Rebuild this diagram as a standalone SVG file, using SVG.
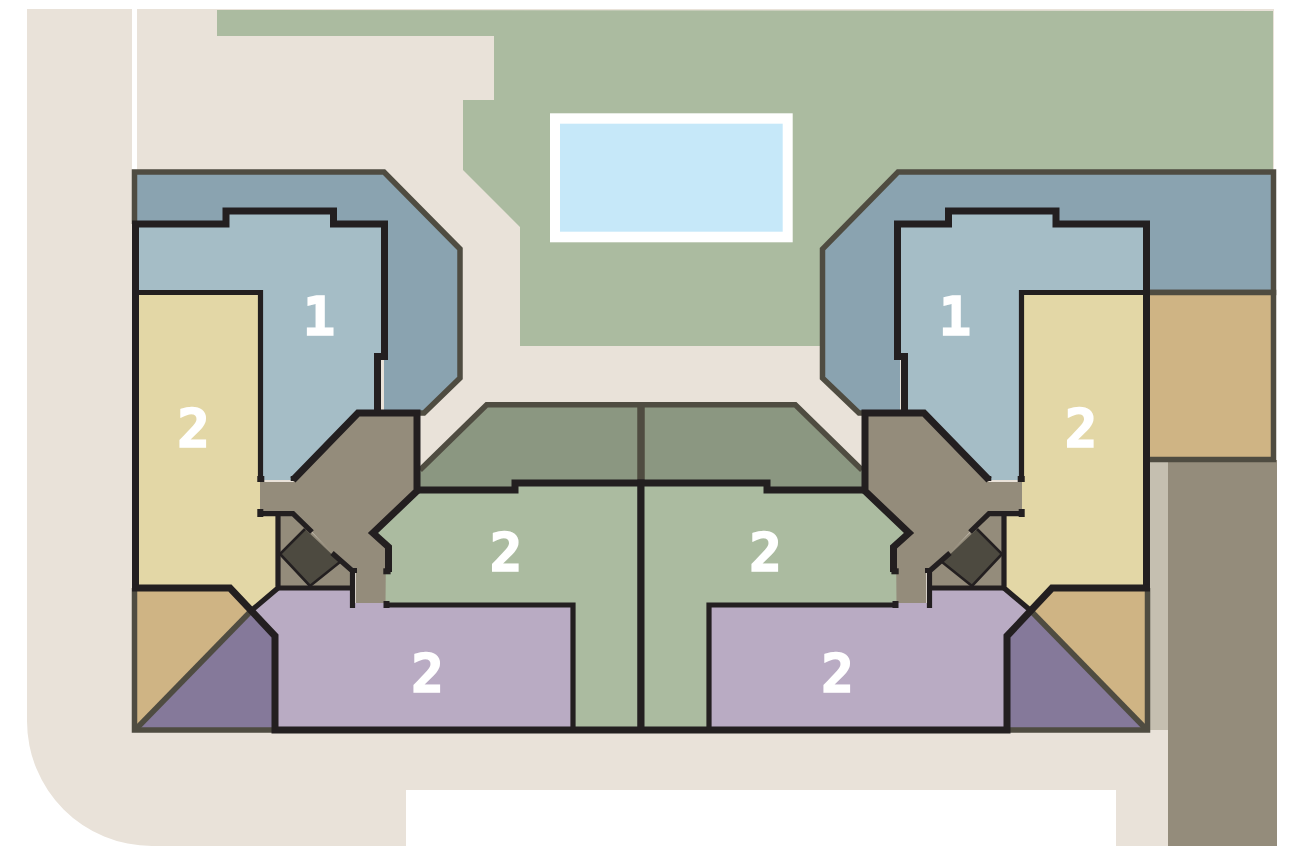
<svg xmlns="http://www.w3.org/2000/svg" width="1291" height="846" viewBox="0 0 1291 846">
<style>
.edge{fill:none;stroke:#4f4c41;stroke-width:5.5;stroke-linejoin:miter}
.wall{fill:none;stroke:#231f20;stroke-width:7;stroke-linejoin:miter}
.thin{fill:none;stroke:#231f20;stroke-width:5.2;stroke-linejoin:miter}
.hair{fill:none;stroke:#231f20;stroke-width:2.6}
.tab{fill:#231f20}
.num{font-family:"DejaVu Sans Mono",monospace;font-weight:700;font-size:54px;fill:#fff;stroke:#fff;stroke-width:1.6;stroke-linejoin:miter;text-anchor:middle}
</style>
<defs>
<g id="wing">
<polygon fill="#a5bdc6" points="135.5,224 226,224 226,211 333.5,211 333.5,224 384.5,224 384.5,356 377.5,356 377.5,413 358,413 293,480 260,480 260,292 135.5,292"/>
<polygon fill="#e3d7a6" points="135.5,292 260.5,292 260.5,514 278,514 278,588 252,610 230,588 135.5,588"/>
<polygon fill="#cfb484" points="135,588 230,588 252,610 135,730"/>
<polygon fill="#85799a" points="135,730 252,610 275,636 275,730"/>
<polygon fill="#b9abc3" points="278,588 352.500,588 352.500,603 385,603 385,605 573,605 573,730 275,730 275,636 252,610"/>
<polygon fill="#abbba0" points="417,490 515,490 515,483 641,483 641,730 573,730 573,605 385,605 385,547 373,533"/>
<polygon fill="#948c7b" points="278,514 293,514 352,572 352,588 278,588"/>
<polygon fill="#948c7b" points="260,482 293,482 358,413 417,413 417,491 373,533 386,547 385.500,603 356,603 356,572 332,553 312,532 293,511 260,511"/>
<polygon fill="#4d4a40" points="305,529 340,562 310,586 280,554"/>
<path class="hair" d="M305 529 280 554 310 586 340 562"/>
<path class="edge" d="M250 612 135 730"/>
<path class="edge" d="M134.500 588V730H275"/>
<path class="wall" d="M135.500 588V224H226V211H333.500V224H384.500V356.500H377.500V413"/>
<path class="wall" d="M293 480 358 413H417V491L373 533 388.500 547V572"/>
<path class="wall" d="M132 588H230L275 636V730H641"/>
<path class="wall" d="M417 490H515V483H641V730"/>
<path class="thin" d="M135.500 292.500H260.500V482"/>
<path class="thin" d="M260 513.700H293L312 532"/>
<path class="thin" d="M332 553 352.500 571V608"/>
<path class="thin" d="M278 514V588L252 610"/>
<path class="thin" d="M278 588H352"/>
<path class="thin" d="M384 605H573V730"/>
<rect class="tab" x="257.300" y="476" width="7" height="6"/>
<rect class="tab" x="290.700" y="476" width="6" height="5"/>
<rect class="tab" x="257.300" y="509" width="6" height="8"/>
<rect class="tab" x="350" y="568" width="7" height="5"/>
<rect class="tab" x="383.300" y="568.300" width="7.300" height="6"/>
<rect class="tab" x="383.500" y="601" width="6" height="7"/>
</g>
</defs>
<rect width="1291" height="846" fill="#fff"/>
<g id="site">
<path id="paving" fill="#e9e2d9" d="M27 9H132V175H137V9H1274V470H1168V846H1116V790H406V846H152A125 125 0 0 1 27 721Z"/>
<polygon id="lawn" fill="#abbba0" points="217,10 1273,11 1273,180 900,180 830,250 830,346 520,346 520,227 463,170 463,100 494,100 494,36 217,36"/>
<g id="pool"><rect x="550" y="113.300" width="242.700" height="129" fill="#fff"/><rect x="560" y="123.700" width="222.700" height="108" fill="#c6e8f9"/></g>
<rect id="verge" x="1150" y="460" width="18" height="270" fill="#c5bfb0"/>
<rect id="road" x="1168" y="460" width="109" height="386" fill="#948c7b"/>
</g>
<g id="terrace-left"><polygon fill="#8aa3b0" stroke="none" points="134.500,172 384,172 460,249 460,378 424,413 384,413 384,292 134.500,292"/><path class="edge" d="M134.500 224V172H384L460 249V378L424 413H417"/></g>
<g id="terrace-right"><polygon fill="#8aa3b0" points="1273.500,172 898,172 822.500,249 822.500,378 859,413 900,413 900,224 1147,224 1147,292.500 1273.500,292.500"/><path class="edge" d="M1147 292.500H1273.500V172H898L822.500 249V378L859 413H865"/></g>
<g id="patio-right"><rect x="1147" y="292.500" width="126.500" height="167" fill="#cfb484"/><path class="edge" d="M1147 292.500H1273.500V459.500H1147"/></g>
<g id="roof"><polygon fill="#8b9781" points="420,470 486.700,404.700 795.300,404.700 862,470 865,490 417,490"/><path class="edge" d="M420 470 486.700 404.700H795.300L862 470"/><path d="M641 404V483" fill="none" stroke="#4f4c41" stroke-width="7.500"/></g>
<g id="wing-left"><use href="#wing"/></g>
<g id="wing-right"><use href="#wing" transform="matrix(-1 0 0 1 1282 0)"/></g>
<g id="labels">
<g id="label-1-left"><text class="num" x="319" y="334.500">1</text></g>
<g id="label-1-right"><text class="num" x="955" y="334.500">1</text></g>
<g id="label-2-yellow-left"><text class="num" x="193.500" y="446.500">2</text></g>
<g id="label-2-yellow-right"><text class="num" x="1081" y="446.500">2</text></g>
<g id="label-2-green-left"><text class="num" x="506" y="570.500">2</text></g>
<g id="label-2-green-right"><text class="num" x="765.500" y="570.500">2</text></g>
<g id="label-2-purple-left"><text class="num" x="427.500" y="691.500">2</text></g>
<g id="label-2-purple-right"><text class="num" x="837.500" y="691.500">2</text></g>
</g>
</svg>
